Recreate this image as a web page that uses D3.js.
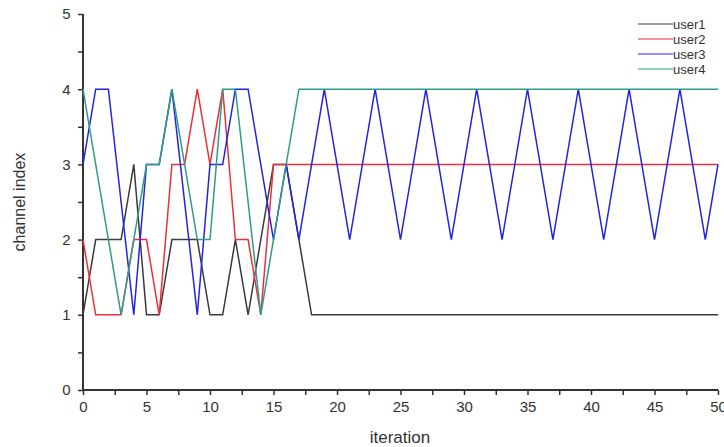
<!DOCTYPE html>
<html>
<head>
<meta charset="utf-8">
<script src="https://cdn.jsdelivr.net/npm/d3@7"></script>
<style>
  body { margin: 0; background: #fff; }
  svg text { font-family: "Liberation Sans", Arial, sans-serif; fill: #333; }
</style>
</head>
<body>
<div id="chart"></div>
<script>
// breakpoints [iteration, channel]
var user1 = [[0,1],[1,2],[3,2],[4,3],[5,1],[6,1],[7,2],[9,2],[10,1],[11,1],[12,2],[13,1],[15,3],[16,3],[18,1],[50,1]];
var user2 = [[0,2],[1,1],[3,1],[4,2],[5,2],[6,1],[7,3],[8,3],[9,4],[10,3],[11,4],[12,2],[13,2],[14,1],[15,3],[50,3]];
var user3 = [[0,3],[1,4],[2,4],[4,1],[5,3],[6,3],[7,4],[9,1],[10,3],[11,3],[12,4],[13,4],[15,2],[16,3],[17,2],
  [19,4],[21,2],[23,4],[25,2],[27,4],[29,2],[31,4],[33,2],[35,4],[37,2],[39,4],[41,2],[43,4],[45,2],[47,4],[49,2],[50,3]];
var user4 = [[0,4],[3,1],[5,3],[6,3],[7,4],[9,2],[10,2],[11,4],[12,4],[14,1],[17,4],[50,4]];

var seriesNames = ["user1", "user2", "user3", "user4"];
var seriesColors = ["#3a3a3a", "#e8303a", "#2424e0", "#2f9c88"];
var xTicks = [0, 5, 10, 15, 20, 25, 30, 35, 40, 45, 50];
var yTicks = [0, 1, 2, 3, 4, 5];

var width = 724, height = 447;
var margin = {left: 83, right: 6, top: 14, bottom: 57};

var svg = d3.select("#chart").append("svg")
    .attr("width", width)
    .attr("height", height);

var x = d3.scaleLinear().domain([0, 50]).range([margin.left, width - margin.right]);
var y = d3.scaleLinear().domain([0, 5]).range([height - margin.bottom, margin.top]);

// axes
var xAxis = svg.append("g")
    .attr("transform", "translate(0," + y(0) + ")")
    .call(d3.axisBottom(x).tickValues(d3.range(0, 50.1, 2.5)).tickSize(5)
      .tickFormat(function(d){ return d % 5 === 0 ? d : ""; }));
var yAxis = svg.append("g")
    .attr("transform", "translate(" + x(0) + ",0)")
    .call(d3.axisLeft(y).tickValues(d3.range(0, 5.1, 0.5)).tickSize(5)
      .tickFormat(function(d){ return d % 1 === 0 ? d : ""; }));

[xAxis, yAxis].forEach(function(a){
  a.select(".domain").attr("stroke", "#333").attr("stroke-width", 2);
  a.selectAll(".tick line").attr("stroke", "#333").attr("stroke-width", 1.5);
  a.selectAll(".tick text").attr("font-size", 15).attr("fill", "#333")
    .style("font-family", "Liberation Sans, Arial, sans-serif");
});
xAxis.select(".domain").attr("d", "M" + x(0) + ",0H" + x(50));
yAxis.select(".domain").attr("d", "M0," + y(0) + "V" + y(5));
xAxis.selectAll(".tick text").attr("dy", "0.95em");
yAxis.selectAll(".tick text").attr("dx", "-0.3em");

svg.append("text")
    .attr("x", 400).attr("y", 443)
    .attr("text-anchor", "middle")
    .attr("font-size", 17)
    .text("iteration");

svg.append("text")
    .attr("transform", "translate(25," + y(2.5) + ") rotate(-90)")
    .attr("text-anchor", "middle")
    .attr("font-size", 16)
    .text("channel index");

// lines
var line = d3.line()
    .x(function(d){ return x(d[0]); })
    .y(function(d){ return y(d[1]); });

var allSeries = [user1, user2, user3, user4];
allSeries.forEach(function(s, i){
  svg.append("path")
    .datum(s)
    .attr("fill", "none")
    .attr("stroke", seriesColors[i])
    .attr("stroke-width", 1.5)
    .attr("stroke-linejoin", "miter")
    .attr("d", line);
});

// legend
var legend = svg.append("g").attr("transform", "translate(638,24)");
seriesNames.forEach(function(n, i){
  var g = legend.append("g").attr("transform", "translate(0," + (i * 15) + ")");
  g.append("line")
    .attr("x1", 0).attr("x2", 35)
    .attr("stroke", seriesColors[i])
    .attr("stroke-width", 1.2);
  g.append("text")
    .attr("x", 35).attr("y", 4.5)
    .attr("font-size", 13)
    .text(n);
});
</script>
</body>
</html>
